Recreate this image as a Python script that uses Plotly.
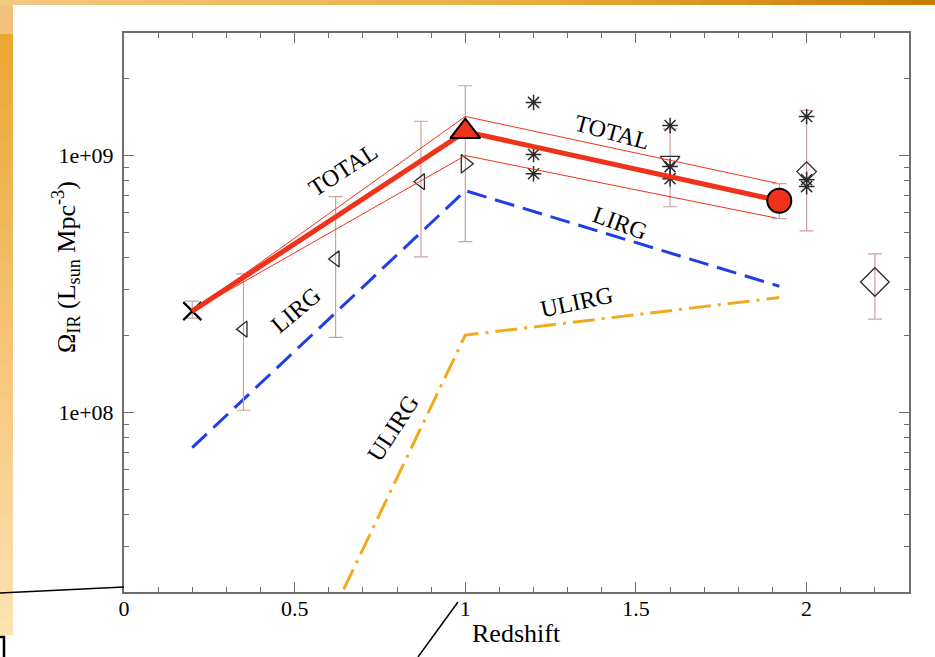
import numpy as np
import plotly.graph_objects as go

# ---------------- data ----------------
z_model = [0.2, 1.0, 1.92]
total = [2.48e8, 1.24e9, 6.67e8]
total_hi = [2.48e8, 1.42e9, 7.77e8]
total_lo = [2.48e8, 1.0e9, 5.68e8]
lirg = [7.3e7, 7.3e8, 3.1e8]
ulirg = [1.2e6, 2.0e8, 2.8e8]

z_x = [0.2]; y_x = [2.48e8]; hi_x = [2.71e8]; lo_x = [2.33e8]
z_tl = [0.35, 0.62, 0.87]; y_tl = [2.11e8, 3.96e8, 7.91e8]
hi_tl = [3.46e8, 6.92e8, 1.36e9]; lo_tl = [1.02e8, 1.96e8, 4.03e8]
z_tr = [1.0]; y_tr = [9.3e8]; hi_tr = [1.87e9]; lo_tr = [4.62e8]
z_tu = [1.0]; y_tu = [1.24e9]
z_circ = [1.92]; y_circ = [6.67e8]; hi_circ = [7.77e8]; lo_circ = [5.68e8]
z_td = [1.6]; y_td = [9.56e8]; hi_td = [1.27e9]; lo_td = [6.32e8]
z_ds = [2.0]; y_ds = [8.66e8]; hi_ds = [1.5e9]; lo_ds = [5.09e8]
z_dl = [2.2]; y_dl = [3.22e8]; hi_dl = [4.14e8]; lo_dl = [2.31e8]
z_ast = [1.2, 1.2, 1.2, 1.6, 1.6, 1.6, 2.0, 2.0, 2.0]
y_ast = [1.61e9, 1.01e9, 8.5e8, 1.31e9, 9.06e8, 8.13e8, 1.42e9, 8.06e8, 7.57e8]

x_ticks = [0, 0.5, 1, 1.5, 2]
x_ticktext = ["0", "0.5", "1", "1.5", "2"]
y_ticks = [1e8, 1e9]
y_ticktext = ["1e+08", "1e+09"]
y_minor = [2e7, 3e7, 4e7, 5e7, 6e7, 7e7, 8e7, 9e7,
           2e8, 3e8, 4e8, 5e8, 6e8, 7e8, 8e8, 9e8, 2e9, 3e9]

labels = [
    ("TOTAL", 0.641, 8.81e8, -33),
    ("TOTAL", 1.429, 1.23e9, 15),
    ("LIRG", 0.504, 2.5e8, -40),
    ("LIRG", 1.452, 5.47e8, 20),
    ("ULIRG", 1.327, 2.69e8, -12),
    ("ULIRG", 0.788, 8.73e7, -57),
]

RED = "#ef3219"
BLUE = "#1f3fe6"
ORANGE = "#f2aa1c"
ERR = "#c9a3a3"
MK = "#2a2a2a"
FONT = "Liberation Serif"


def err(y, hi, lo):
    return dict(type="data", symmetric=False,
                array=list(np.array(hi) - np.array(y)),
                arrayminus=list(np.array(y) - np.array(lo)),
                color=ERR, thickness=1.2, width=7)


fig = go.Figure()

# model lines
fig.add_trace(go.Scatter(x=z_model, y=ulirg, mode="lines",
                         line=dict(color=ORANGE, width=3, dash="22px,7px,3px,7px")))
fig.add_trace(go.Scatter(x=z_model, y=lirg, mode="lines",
                         line=dict(color=BLUE, width=3, dash="20px,9px")))

# observational points with error bars
fig.add_trace(go.Scatter(x=z_x, y=y_x, mode="markers", error_y=err(y_x, hi_x, lo_x),
                         marker=dict(symbol="x-thin", size=18, line=dict(color="black", width=2.2))))
fig.add_trace(go.Scatter(x=z_tl, y=y_tl, mode="markers", error_y=err(y_tl, hi_tl, lo_tl),
                         marker=dict(symbol="triangle-left-open", size=14, color=MK, line=dict(width=1.3))))
fig.add_trace(go.Scatter(x=z_tr, y=y_tr, mode="markers", error_y=err(y_tr, hi_tr, lo_tr),
                         marker=dict(symbol="triangle-right-open", size=16, color=MK, line=dict(width=1.3))))
fig.add_trace(go.Scatter(x=z_td, y=y_td, mode="markers", error_y=err(y_td, hi_td, lo_td),
                         marker=dict(symbol="triangle-down-open", size=17, color=MK, line=dict(width=1.3))))
fig.add_trace(go.Scatter(x=z_ds, y=y_ds, mode="markers", error_y=err(y_ds, hi_ds, lo_ds),
                         marker=dict(symbol="diamond-open", size=15, color=MK, line=dict(width=1.3))))
fig.add_trace(go.Scatter(x=z_dl, y=y_dl, mode="markers", error_y=err(y_dl, hi_dl, lo_dl),
                         marker=dict(symbol="diamond-open", size=22, color=MK, line=dict(width=1.3))))
fig.add_trace(go.Scatter(x=z_ast, y=y_ast, mode="markers",
                         marker=dict(symbol="asterisk-open", size=13, color=MK, line=dict(width=1.5, color=MK))))

# TOTAL lines
fig.add_trace(go.Scatter(x=z_model, y=total_hi, mode="lines", line=dict(color=RED, width=1)))
fig.add_trace(go.Scatter(x=z_model, y=total_lo, mode="lines", line=dict(color=RED, width=1)))
fig.add_trace(go.Scatter(x=z_model, y=total, mode="lines", line=dict(color=RED, width=5)))

fig.add_trace(go.Scatter(x=z_circ, y=y_circ, mode="markers", error_y=err(y_circ, hi_circ, lo_circ),
                         marker=dict(symbol="circle", size=24, color=RED, line=dict(color="black", width=2))))
fig.add_trace(go.Scatter(x=z_tu, y=y_tu, mode="markers",
                         marker=dict(symbol="triangle-up", size=26, color=RED, line=dict(color="black", width=2))))

# curve labels
for txt, xx, yy, ang in labels:
    fig.add_annotation(x=xx, y=np.log10(yy), text=txt, showarrow=False, textangle=ang,
                       xanchor="center", yanchor="middle",
                       font=dict(family=FONT, size=24, color="black"))

# geometry helpers (pixel -> paper)
L, R, T, B = 124, 909, 33, 592
W, H = R - L, B - T


def px(xp):
    return (xp - L) / W


def py(yp):
    return (B - yp) / H


# axis titles
fig.add_annotation(x=0.5, y=py(633), xref="paper", yref="paper", text="Redshift",
                   xanchor="center", yanchor="middle",
                   showarrow=False, font=dict(family=FONT, size=26, color="black"))
fig.add_annotation(x=px(66), y=py(267), xref="paper", yref="paper", textangle=-90,
                   xanchor="center", yanchor="middle",
                   text="Ω<sub>IR</sub> (L<sub>sun</sub> Mpc<sup>-3</sup>)",
                   showarrow=False, font=dict(family=FONT, size=26, color="black"))

shapes = []


def lerp(c1, c2, t):
    a = [int(c1[i:i + 2], 16) for i in (1, 3, 5)]
    b = [int(c2[i:i + 2], 16) for i in (1, 3, 5)]
    return "#%02x%02x%02x" % tuple(int(round(a[k] + (b[k] - a[k]) * t)) for k in range(3))


# top gradient strip
n = 40
for i in range(n):
    x0 = 935 * i / n
    x1 = 935 * (i + 1) / n + 1
    t = i / (n - 1)
    c = lerp("#f3c883", "#e7a93a", min(1, t * 1.6)) if t < 0.6 else lerp("#e7a93a", "#c97c04", (t - 0.6) / 0.4)
    shapes.append(dict(type="rect", xref="paper", yref="paper", x0=px(x0), x1=px(x1),
                       y0=py(0), y1=py(5), line=dict(width=0), fillcolor=c))
# left strip
shapes.append(dict(type="rect", xref="paper", yref="paper", x0=px(0), x1=px(13),
                   y0=py(5), y1=py(34), line=dict(width=0), fillcolor="#f0c27c"))
m = 40
for i in range(m):
    y0 = 34 + (635 - 34) * i / m
    y1 = 34 + (635 - 34) * (i + 1) / m + 1
    c = lerp("#eba634", "#fde2b2", i / (m - 1))
    shapes.append(dict(type="rect", xref="paper", yref="paper", x0=px(0), x1=px(13),
                       y0=py(y0), y1=py(min(y1, 635)), line=dict(width=0), fillcolor=c))
# callout lines
shapes.append(dict(type="line", xref="paper", yref="paper", x0=px(0), y0=py(593), x1=px(124), y1=py(587),
                   line=dict(color="black", width=1.5)))
shapes.append(dict(type="line", xref="paper", yref="paper", x0=px(458), y0=py(602), x1=px(418), y1=py(657),
                   line=dict(color="black", width=1.5)))
shapes.append(dict(type="path", xref="paper", yref="paper",
                   path="M %f %f L %f %f L %f %f" % (px(0), py(637), px(4), py(637), px(4), py(657)),
                   line=dict(color="black", width=2.5)))

fig.update_layout(
    width=935, height=657,
    margin=dict(l=L, r=935 - R, t=T, b=657 - B),
    paper_bgcolor="white", plot_bgcolor="white",
    showlegend=False,
    shapes=shapes,
    font=dict(family=FONT, color="black"),
    xaxis=dict(range=[0, 2.3], showgrid=False, zeroline=False,
               showline=True, linecolor="#6e6e6e", linewidth=2, mirror="allticks",
               ticks="inside", ticklen=10, tickwidth=1.3, tickcolor="#6e6e6e",
               tickvals=x_ticks, ticktext=x_ticktext, ticklabelstandoff=-4,
               tickfont=dict(family=FONT, size=22, color="black"),
               minor=dict(dtick=0.1, tick0=0, ticks="inside", ticklen=5, tickwidth=1.2,
                          tickcolor="#6e6e6e", showgrid=False)),
    yaxis=dict(type="log", range=[np.log10(2e7), np.log10(3e9)], showgrid=False, zeroline=False,
               showline=True, linecolor="#6e6e6e", linewidth=2, mirror="allticks",
               ticks="inside", ticklen=10, tickwidth=1.3, tickcolor="#6e6e6e",
               tickvals=y_ticks, ticktext=y_ticktext, ticklabelstandoff=4,
               tickfont=dict(family=FONT, size=22, color="black"),
               minor=dict(tickvals=y_minor, ticks="inside", ticklen=5, tickwidth=1.2,
                          tickcolor="#6e6e6e", showgrid=False)),
)

fig.write_html("out.html")
